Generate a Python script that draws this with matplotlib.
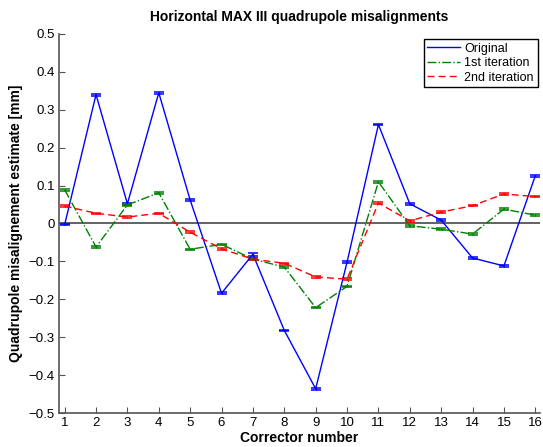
import matplotlib.pyplot as plt

plt.rcParams['font.family'] = ['Liberation Sans', 'DejaVu Sans']

corrector = list(range(1, 17))
original = [-0.003, 0.340, 0.052, 0.345, 0.062, -0.184, -0.081, -0.282,
            -0.436, -0.102, 0.261, 0.052, 0.009, -0.091, -0.112, 0.126]
iter1 = [0.089, -0.062, 0.049, 0.081, -0.068, -0.055, -0.094, -0.115,
         -0.222, -0.166, 0.110, -0.006, -0.015, -0.028, 0.038, 0.022]
iter2 = [0.046, 0.027, 0.017, 0.027, -0.023, -0.067, -0.094, -0.105,
         -0.141, -0.147, 0.054, 0.007, 0.030, 0.047, 0.078, 0.071]
err_orig = [0.002, 0.003, 0.002, 0.003, 0.002, 0.003, 0.004, 0.002,
            0.003, 0.002, 0.002, 0.002, 0.002, 0.002, 0.002, 0.002]
err_1 = [0.002] * 16
err_2 = [0.002] * 16

fig = plt.figure(figsize=(5.43, 4.47), dpi=100)
ax = fig.add_axes([59 / 543, 1 - 413 / 447, 481 / 543, 379 / 447])

ax.axhline(0, color='#555555', lw=1.3, zorder=1)

series = [
    (original, err_orig, 'b', '-', 'Original'),
    (iter1, err_1, 'g', '-.', '1st iteration'),
    (iter2, err_2, 'r', (0, (5, 3)), '2nd iteration'),
]
handles = []
for vals, err, col, ls, lab in series:
    cont = ax.errorbar(corrector, vals, yerr=err, color=col, ls=ls, lw=1.0,
                       capsize=3.5, capthick=1.1, elinewidth=1.0, label=lab)
    handles.append(cont[0])

ax.set_xlim(0.82, 16.15)
ax.set_ylim(-0.5, 0.5)
ax.set_xticks(corrector)
ax.set_yticks([-0.5, -0.4, -0.3, -0.2, -0.1, 0, 0.1, 0.2, 0.3, 0.4, 0.5])
ax.set_yticklabels(['\u22120.5', '\u22120.4', '\u22120.3', '\u22120.2', '\u22120.1',
                    '0', '0.1', '0.2', '0.3', '0.4', '0.5'])
ax.tick_params(direction='in', length=4, color='#555555', labelsize=9.5, pad=3)
for side in ['top', 'right']:
    ax.spines[side].set_visible(False)
for side in ['left', 'bottom']:
    ax.spines[side].set_color('#555555')
    ax.spines[side].set_linewidth(1.2)

ax.set_title('Horizontal MAX III quadrupole misalignments', fontsize=10,
             fontweight='bold', pad=9)
ax.set_xlabel('Corrector number', fontsize=10, fontweight='bold', labelpad=1)
ax.set_ylabel('Quadrupole misalignement estimate [mm]', fontsize=10,
              fontweight='bold', labelpad=4)

leg = ax.legend(handles=handles, labels=[s[4] for s in series],
                loc='upper right', bbox_to_anchor=(0.995, 0.987), fontsize=9,
                fancybox=False, framealpha=1, edgecolor='black',
                handlelength=2.6, handletextpad=0.35, borderpad=0.3,
                labelspacing=0.2, borderaxespad=0)
leg.get_frame().set_linewidth(1.0)

fig.savefig('out.png', dpi=100)
